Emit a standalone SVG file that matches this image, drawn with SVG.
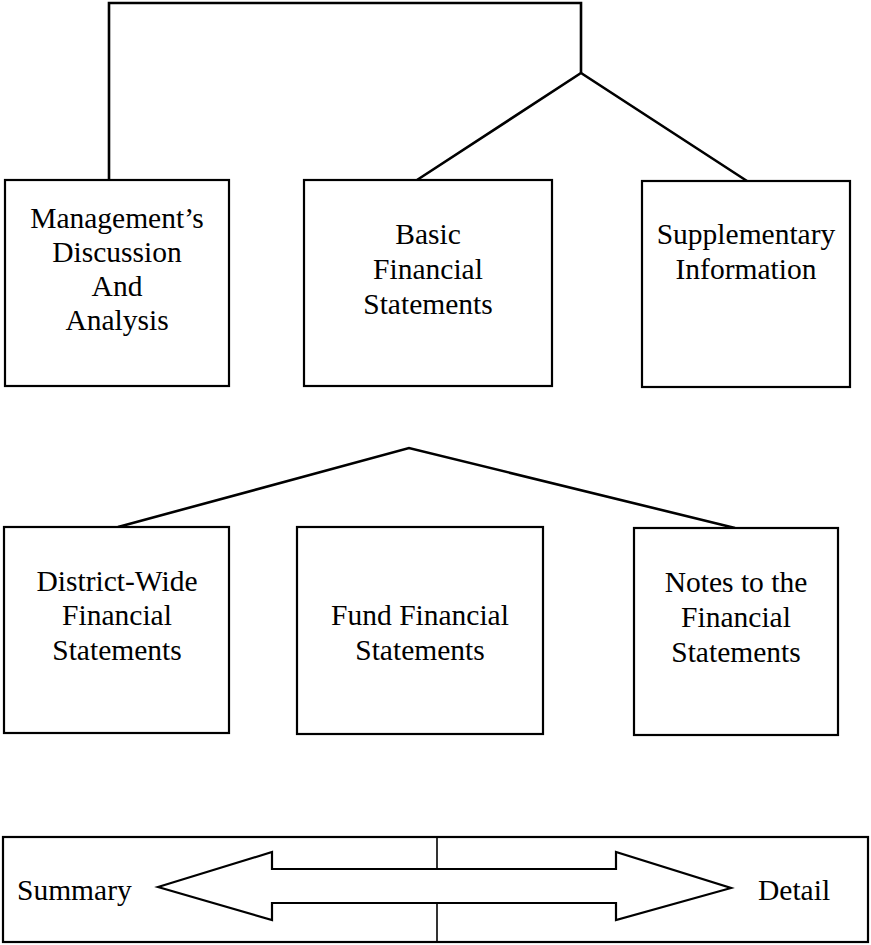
<svg xmlns="http://www.w3.org/2000/svg" width="871" height="945" viewBox="0 0 871 945">
<style>
.box{fill:#fff;stroke:#000;stroke-width:2.2}
.ln{fill:none;stroke:#000;stroke-width:2.6;stroke-linejoin:miter}
.thin{fill:none;stroke:#000;stroke-width:1.6}
text{font-family:"Liberation Serif","Times New Roman",serif;font-size:29.5px;fill:#000;text-anchor:middle}
.l{text-anchor:start}
</style>
<rect width="871" height="945" fill="#fff"/>
<g id="connectors">
<polyline class="ln" points="109,180 109,3 581,3 581,73"/>
<polyline class="ln" points="417,180 581,73 747,181"/>
<polyline class="ln" points="118,527 409,448 735,528"/>
</g>
<g id="mda">
<rect class="box" x="5" y="180" width="224" height="206"/>
<text x="117" y="228">Management’s</text>
<text x="117" y="262">Discussion</text>
<text x="117" y="296">And</text>
<text x="117" y="330">Analysis</text>
</g>
<g id="basic">
<rect class="box" x="304" y="180" width="248" height="206"/>
<text x="428" y="244">Basic</text>
<text x="428" y="279">Financial</text>
<text x="428" y="314">Statements</text>
</g>
<g id="supp">
<rect class="box" x="642" y="181" width="208" height="206"/>
<text x="746" y="244">Supplementary</text>
<text x="746" y="279">Information</text>
</g>
<g id="district">
<rect class="box" x="4" y="527" width="225" height="206"/>
<text x="117" y="591">District-Wide</text>
<text x="117" y="625">Financial</text>
<text x="117" y="660">Statements</text>
</g>
<g id="fund">
<rect class="box" x="297" y="527" width="246" height="207"/>
<text x="420" y="625">Fund Financial</text>
<text x="420" y="660">Statements</text>
</g>
<g id="notes">
<rect class="box" x="634" y="528" width="204" height="207"/>
<text x="736" y="592">Notes to the</text>
<text x="736" y="627">Financial</text>
<text x="736" y="662">Statements</text>
</g>
<g id="scale">
<rect class="box" x="3" y="837" width="865" height="105"/>
<line class="thin" x1="437" y1="837" x2="437" y2="869"/>
<line class="thin" x1="437" y1="903" x2="437" y2="942"/>
<polygon class="box" points="158,887 272,852 272,869 616,869 616,852 731,888 616,920 616,903 272,903 272,920"/>
<text class="l" x="17" y="900">Summary</text>
<text class="l" x="758" y="900">Detail</text>
</g>
</svg>
